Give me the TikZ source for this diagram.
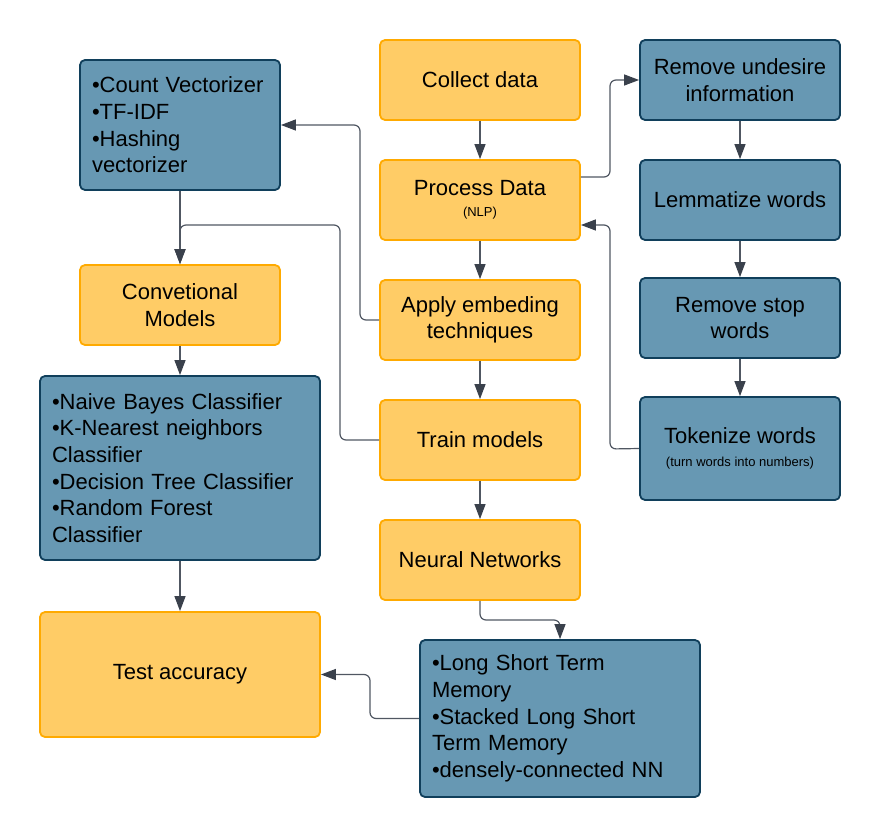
\documentclass[tikz,border=0pt]{standalone}
\usepackage{fontspec}
\setmainfont{Liberation Sans}
\usetikzlibrary{arrows.meta}
\definecolor{yfill}{RGB}{255,204,102}
\definecolor{ydraw}{RGB}{255,170,0}
\definecolor{bfill}{RGB}{103,152,179}
\definecolor{bdraw}{RGB}{16,63,91}
\definecolor{lcol}{RGB}{80,87,98}
\definecolor{acol}{RGB}{58,65,76}
\newcommand{\bigf}{\fontsize{22}{26.6}\selectfont}
\newcommand{\smallf}{\fontsize{13}{15}\selectfont}
\tikzset{
  ybox/.style={draw=ydraw, fill=yfill, line width=1.8pt, rounded corners=5pt, align=center, inner sep=0pt, font=\bigf},
  bbox/.style={draw=bdraw, fill=bfill, line width=1.8pt, rounded corners=5pt, align=center, inner sep=0pt, font=\bigf},
  lbox/.style={bbox, align=left, inner xsep=12pt},
  conn/.style={draw=lcol, line width=1.2pt, rounded corners=6pt, -{Triangle[length=15pt,width=11pt,color=acol]}},
}
\begin{document}
\begin{tikzpicture}[x=1pt,y=-1pt]
\useasboundingbox (0,0) rectangle (880,837);
% yellow boxes
\node[ybox, minimum width=200, minimum height=80] (collect) at (480,80) {Collect data};
\node[ybox, minimum width=200, minimum height=80] (proc) at (480,200) {Process Data\\[-6pt]{\smallf (NLP)}};
\node[ybox, minimum width=200, minimum height=80] (emb) at (480,320) {Apply embeding\\techniques};
\node[ybox, minimum width=200, minimum height=80] (train) at (480,440) {Train models};
\node[ybox, minimum width=200, minimum height=80] (nn) at (480,560) {Neural Networks};
\node[ybox, minimum width=200, minimum height=80] (conv) at (180,305) {Convetional\\Models};
\node[ybox, minimum width=280, minimum height=125] (test) at (180,674.5) {Test accuracy};
% blue boxes
\node[bbox, minimum width=200, minimum height=80] (rmu) at (740,80) {Remove undesire\\information};
\node[bbox, minimum width=200, minimum height=80] (lem) at (740,200) {Lemmatize words};
\node[bbox, minimum width=200, minimum height=80] (rsw) at (740,318) {Remove stop\\words};
\node[bbox, minimum width=200, minimum height=103] (tok) at (740,448.5) {Tokenize words\\[-4pt]{\smallf (turn words into numbers)}};
\node[lbox, text width=176pt, minimum height=130] (cv) at (180,125) {\textbullet Count Vectorizer\\\textbullet TF-IDF\\\textbullet Hashing\\vectorizer};
\node[lbox, text width=256pt, minimum height=184] (nb) at (180,468) {\textbullet Naive Bayes Classifier\\\textbullet K-Nearest neighbors\\Classifier\\\textbullet Decision Tree Classifier\\\textbullet Random Forest\\Classifier};
\node[lbox, text width=256pt, minimum height=157] (lstm) at (560,718.5) {\textbullet Long Short Term\\Memory\\\textbullet Stacked Long Short\\Term Memory\\\textbullet densely-connected NN};
% bend points
\coordinate (b1) at (610,177);
\coordinate (b2) at (610,449);
\coordinate (b3) at (360,320);
\coordinate (b4) at (340,440);
\coordinate (b5) at (180,225);
\coordinate (b6) at (480,620);
\coordinate (b7) at (370,718.5);
% connectors
\draw[conn] (collect) -- (proc);
\draw[conn] ([yshift=23pt]proc.east) -- (b1) |- (rmu.west);
\draw[conn] (rmu) -- (lem);
\draw[conn] (lem) -- (rsw);
\draw[conn] (rsw) -- (tok);
\draw[conn] (tok.west) -- (b2) |- ([yshift=-25pt]proc.east);
\draw[conn] (proc) -- (emb);
\draw[conn] (emb.west) -- (b3) |- (cv.east);
\draw[conn] (emb) -- (train);
\draw[conn] (train) -- (nn);
\draw[conn] (cv) -- (conv);
\draw[conn] (train.west) -- (b4) |- (b5) -- (conv.north);
\draw[conn] (conv) -- (nb);
\draw[conn] (nb) -- (test);
\draw[conn] (nn.south) -- (b6) -| (lstm.north);
\draw[conn] (lstm.west) -- (b7) |- (test.east);
\end{tikzpicture}
\end{document}
